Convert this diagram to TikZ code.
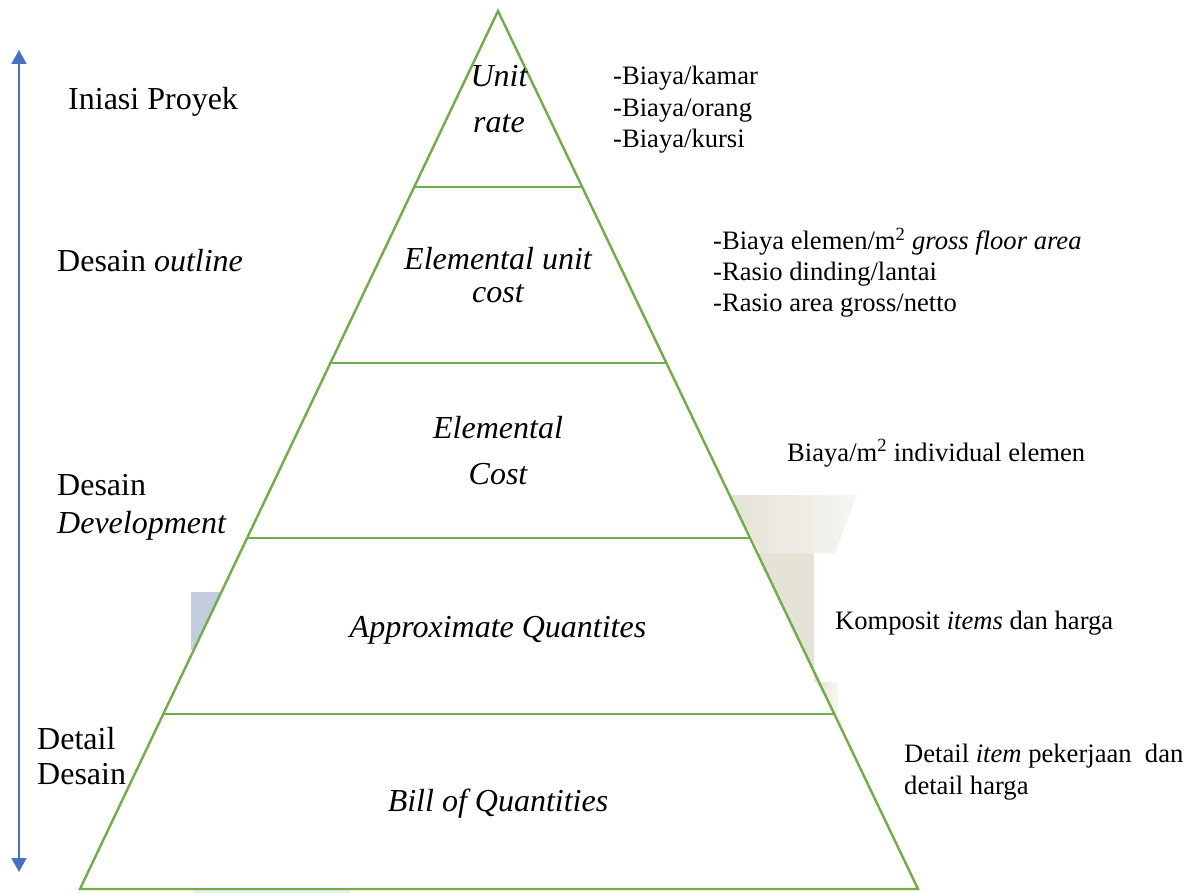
\documentclass[tikz,border=0pt]{standalone}
\usepackage{fontspec}
\setmainfont{Liberation Serif}
\usetikzlibrary{arrows.meta}
\begin{document}
\begin{tikzpicture}[x=1pt,y=-1pt,
  edge/.style={draw=pgreen,line width=2.4pt},
  lvl/.style={font=\fontsize{32}{36}\selectfont\itshape,anchor=base,inner sep=0pt},
  phase/.style={font=\fontsize{32}{38}\selectfont,anchor=base west,inner sep=0pt},
  note/.style={font=\fontsize{26.6}{30}\selectfont,anchor=base west,inner sep=0pt}]
\definecolor{pgreen}{RGB}{112,173,71}
\definecolor{pblue}{RGB}{68,114,196}
\definecolor{beige}{RGB}{229,226,214}
\definecolor{grayblue}{RGB}{196,205,222}
\useasboundingbox (0,0) rectangle (1200,893);
% faint background remnants
\shade[left color=beige,right color=beige!35] (730,495) -- (857,495) -- (835,553) -- (760,553) -- cycle;
\fill[beige] (757,553) -- (814,553) -- (814,682) -- (820,682) -- cycle;
\shade[left color=beige,right color=beige!30] (816,682) -- (838,682) -- (838,714) -- (835,714) -- cycle;
\fill[grayblue] (191,592) -- (222,592) -- (194,650) -- (191,650) -- cycle;
\fill[grayblue!40] (193,889) rectangle (350,893);
% pyramid
\coordinate (apex) at (498,11);
\coordinate (bl) at (80,889);
\coordinate (br) at (918,889);
\draw[edge,line join=miter] (bl) -- (apex) -- (br) -- cycle;
\coordinate (l1) at (414,187); \coordinate (r1) at (582,187);
\coordinate (l2) at (330,363); \coordinate (r2) at (665,363);
\coordinate (l3) at (247,538); \coordinate (r3) at (750,538);
\coordinate (l4) at (163,714); \coordinate (r4) at (834,714);
\draw[edge] (l1) -- (r1);
\draw[edge] (l2) -- (r2);
\draw[edge] (l3) -- (r3);
\draw[edge] (l4) -- (r4);
% level labels
\node[lvl] (u1) at (499,87) {Unit};
\node[lvl] (u2) at (499,133) {rate};
\node[lvl] (e1) at (498,270) {Elemental unit};
\node[lvl] (e2) at (498,303) {cost};
\node[lvl] (c1) at (498,438) {Elemental};
\node[lvl] (c2) at (498,484) {Cost};
\node[lvl] (aq) at (498,637) {Approximate Quantites};
\node[lvl] (bq) at (498,811) {Bill of Quantities};
% phase arrow
\coordinate (atop) at (19,50);
\coordinate (abot) at (19,872);
\draw[pblue,line width=1.5pt,{Triangle[width=15pt,length=14pt]}-{Triangle[width=15pt,length=14pt]}] (atop) -- (abot);
% phase labels
\node[phase] (p1) at (68,110) {Iniasi Proyek};
\node[phase] (p2) at (57,272) {Desain \textit{outline}};
\node[phase] (p3) at (57,495) {Desain};
\node[phase] (p4) at (57,533) {\textit{Development}};
\node[phase] (p5) at (37,749) {Detail};
\node[phase] (p6) at (37,784) {Desain};
% notes
\node[note] (n1) at (613,85) {-Biaya/kamar};
\node[note] (n2) at (613,117) {-Biaya/orang};
\node[note] (n3) at (613,148) {-Biaya/kursi};
\node[note] (n4) at (713,250) {-Biaya elemen/m\textsuperscript{2} \textit{gross floor area}};
\node[note] (n5) at (713,281) {-Rasio dinding/lantai};
\node[note] (n6) at (713,312) {-Rasio area gross/netto};
\node[note] (n7) at (787,461) {Biaya/m\textsuperscript{2} individual elemen};
\node[note] (n8) at (835,629) {Komposit \textit{items} dan harga};
\node[note] (n9) at (904,762) {Detail \textit{item} pekerjaan\ \ dan};
\node[note] (n10) at (904,794) {detail harga};
\end{tikzpicture}
\end{document}
